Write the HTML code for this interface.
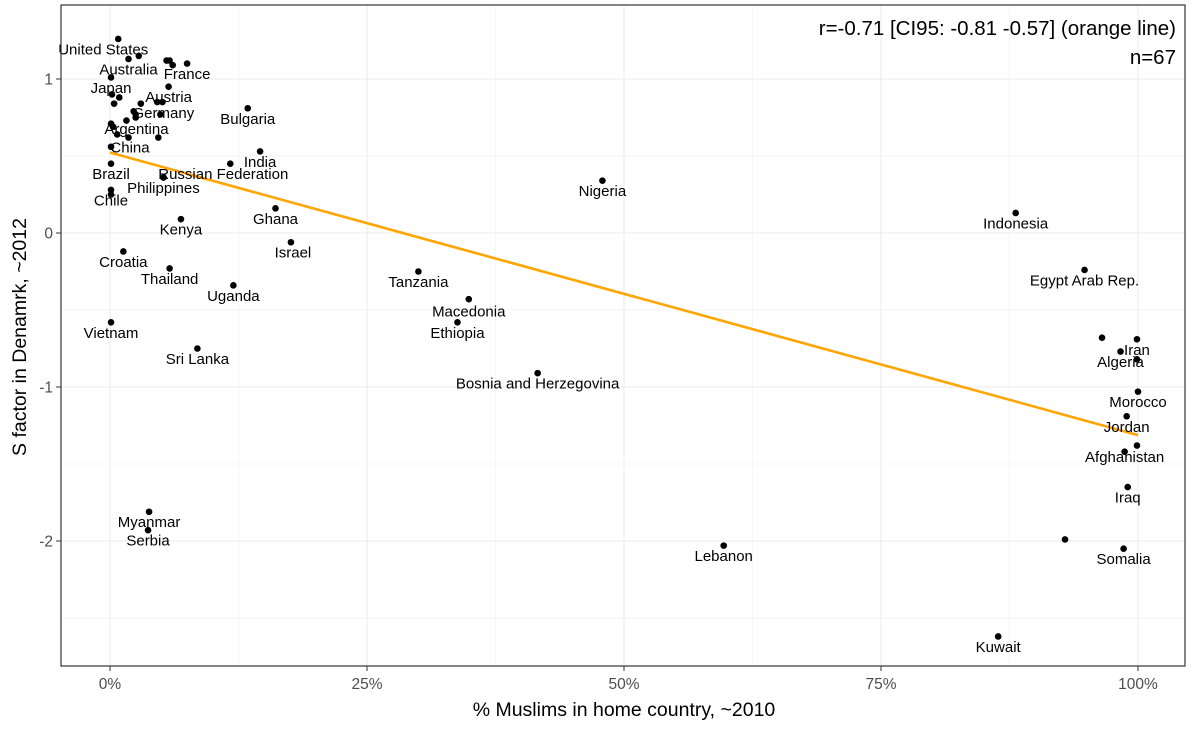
<!DOCTYPE html>
<html><head><meta charset="utf-8"><style>
body{margin:0;background:#fff;font-family:"Liberation Sans",sans-serif}
svg text{font-family:"Liberation Sans",sans-serif}
</style></head><body>
<svg id="chart" width="1200" height="726" viewBox="0 0 1200 726" xmlns="http://www.w3.org/2000/svg">
<rect x="0" y="0" width="1200" height="726" fill="#fff"/>
<g id="grid"></g>
<g id="axes"></g>
<g id="fit"></g>
<g id="pts"></g>
<g id="labels"></g>
<rect x="61" y="5" width="1124" height="661" fill="none" stroke="#333" stroke-width="1.2"/>
<text x="1176" y="35" text-anchor="end" font-size="20.5" fill="#000">r=-0.71 [CI95: -0.81 -0.57] (orange line)</text>
<text x="1176" y="64" text-anchor="end" font-size="20.5" fill="#000">n=67</text>
<text x="624" y="716" text-anchor="middle" font-size="19.5" fill="#000">% Muslims in home country, ~2010</text>
<text transform="translate(26,337) rotate(-90)" text-anchor="middle" font-size="19.5" fill="#000">S factor in Denamrk, ~2012</text>
</svg>
<script>
const xPct = [0.8,1.8,2.8,5.5,5.8,6.1,7.5,0.1,5.7,0.2,0.9,0.4,3.0,4.6,5.1,2.3,2.5,2.5,4.9,1.6,0.1,0.3,0.7,1.8,4.7,0.1,0.1,0.1,0.1,13.4,14.6,11.7,5.2,16.1,6.9,1.3,5.8,12.0,0.1,8.5,17.6,30.0,34.9,33.8,41.6,47.9,59.7,3.8,3.7,86.4,88.1,94.8,92.9,98.6,96.5,99.9,98.3,99.9,100,98.9,98.7,99.9,99.0];
const sVal = [1.26,1.13,1.15,1.12,1.12,1.09,1.10,1.01,0.95,0.90,0.88,0.84,0.84,0.85,0.85,0.79,0.77,0.75,0.77,0.73,0.71,0.69,0.64,0.62,0.62,0.56,0.45,0.28,0.25,0.81,0.53,0.45,0.36,0.16,0.09,-0.12,-0.23,-0.34,-0.58,-0.75,-0.06,-0.25,-0.43,-0.58,-0.91,0.34,-2.03,-1.81,-1.93,-2.62,0.13,-0.24,-1.99,-2.05,-0.68,-0.69,-0.77,-0.82,-1.03,-1.19,-1.42,-1.38,-1.65];
const names = ["United States","Australia","","","","","France","Japan","Austria","","","","","","","","","","Germany","Argentina","","","","","","China","Brazil","Chile","","Bulgaria","India","Russian Federation","Philippines","Ghana","Kenya","Croatia","Thailand","Uganda","Vietnam","Sri Lanka","Israel","Tanzania","Macedonia","Ethiopia","Bosnia and Herzegovina","Nigeria","Lebanon","Myanmar","Serbia","Kuwait","Indonesia","Egypt Arab Rep.","","Somalia","","Iran","Algeria","","Morocco","Jordan","Afghanistan","","Iraq"];
const xTicks = [0,25,50,75,100];
const yTicks = [-2,-1,0,1];

const NS="http://www.w3.org/2000/svg";
const X = v => 110 + (v/25)*257;
const Y = v => 233 - v*154;
function mk(tag, attrs, parent){const e=document.createElementNS(NS,tag);for(const k in attrs)e.setAttribute(k,attrs[k]);document.getElementById(parent).appendChild(e);return e;}

for (let i=0;i<xTicks.length;i++){
  const v=xTicks[i];
  const g=mk('line',{x1:X(v),x2:X(v),y1:5,y2:666,stroke:'#ebebeb','stroke-width':1.1},'grid');
  
  
  if(i<xTicks.length-1){const m=mk('line',{x1:X(v+12.5),x2:X(v+12.5),y1:5,y2:666,stroke:'#f3f3f3','stroke-width':0.8},'grid');
  
  }
  const t=mk('line',{x1:X(v),x2:X(v),y1:666,y2:671,stroke:'#333'},'axes');
  
  
  const l=mk('text',{x:X(v),y:689,'text-anchor':'middle','font-size':15.5,fill:'#4d4d4d'},'axes');
  l.textContent=v+'%';
  
  
}
for (const v of [-2.5,-1.5,-0.5,0.5]){
  const m=mk('line',{x1:61,x2:1185,y1:Y(v),y2:Y(v),stroke:'#f3f3f3','stroke-width':0.8},'grid');
  
  
}
for (const v of yTicks){
  const g=mk('line',{x1:61,x2:1185,y1:Y(v),y2:Y(v),stroke:'#ebebeb','stroke-width':1.1},'grid');
  
  
  const t=mk('line',{x1:56,x2:61,y1:Y(v),y2:Y(v),stroke:'#333'},'axes');
  
  
  const l=mk('text',{x:53,y:Y(v)+5.5,'text-anchor':'end','font-size':15.5,fill:'#4d4d4d'},'axes');
  l.textContent=v;
  
  
}
const n=xPct.length; let mx=0,my=0; for(let i=0;i<n;i++){mx+=xPct[i];my+=sVal[i];} mx/=n;my/=n;
let sxy=0,sxx=0; for(let i=0;i<n;i++){sxy+=(xPct[i]-mx)*(sVal[i]-my);sxx+=(xPct[i]-mx)**2;}
const b=sxy/sxx, a=my-b*mx;
const fl=mk('line',{x1:X(0),y1:Y(a),x2:X(100),y2:Y(a+b*100),stroke:'#ffa500','stroke-width':2.6},'fit');


const off={"United States":[-15,10],"Argentina":[10,8],"China":[19,0],"Russian Federation":[-7,10],"Germany":[3,-2],"Afghanistan":[0,5],"Israel":[2,10],"Macedonia":[0,12]};
for(let i=0;i<n;i++){
  const c=mk('circle',{cx:X(xPct[i]),cy:Y(sVal[i]),r:3.3,fill:'#000'},'pts');
  
  
  if(names[i]){
    const o=off[names[i]]||[0,10];
    const t=mk('text',{x:X(xPct[i])+o[0],y:Y(sVal[i])+o[1]+5.5,'text-anchor':'middle','font-size':15,fill:'#000'},'labels');
    t.textContent=names[i];
    
    
  }
}
</script>
</body></html>
